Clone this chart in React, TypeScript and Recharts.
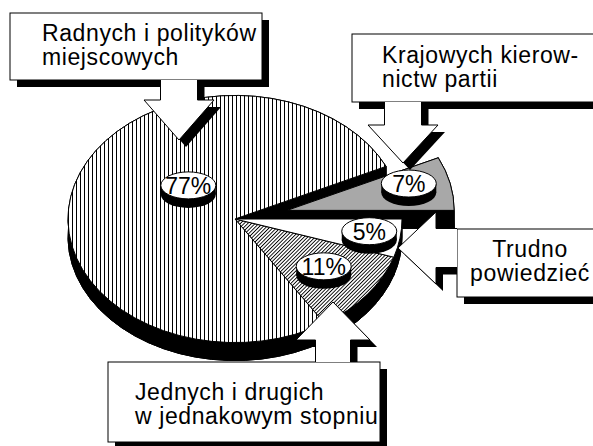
import React from 'react';
import { PieChart, Pie, Cell } from 'recharts';

// ---- data ----
const CATEGORIES = [
  'Jednych i drugich w jednakowym stopniu',
  'Trudno powiedzieć',
  'Krajowych kierownictw partii',
  'Radnych i polityków miejscowych',
];
const VALUES = [11, 5, 7, 77];
const PCT_LABELS = ['11%', '5%', '7%', '77%'];

const data = CATEGORIES.map((name, i) => ({ name, value: VALUES[i], pct: PCT_LABELS[i] }));

// ---- layout / style ----
const W = 593;
const H = 446;
const CX = 235;
const CY = 219;
const R = 167;
const RY = 0.74;
const DEPTH = 18;
const START = -57.6;
const FILLS = ['url(#hatch)', '#ffffff', '#a8a8a8', 'url(#vstripes)'];
const EXPLODE = [0, 0, 0.32, 0];
const LABEL_LAYOUT = [
  { dA: 2, r: 0.655 },
  { dA: 2, r: 0.81 },
  { dA: 4, r: 0.76 },
  { dA: -28, r: 0.39 },
];
const FONT = '"Liberation Sans", Arial, Helvetica, sans-serif';

function ellPt(cx: number, cy: number, r: number, deg: number): [number, number] {
  const a = (deg * Math.PI) / 180;
  return [cx + r * Math.cos(a), cy - r * RY * Math.sin(a)];
}

function sectorD(cx: number, cy: number, r: number, s: number, e: number) {
  const [x1, y1] = ellPt(cx, cy, r, s);
  const [x2, y2] = ellPt(cx, cy, r, e);
  const large = Math.abs(e - s) > 180 ? 1 : 0;
  return `M${cx},${cy} L${x1},${y1} A${r},${r * RY} 0 ${large} 0 ${x2},${y2} Z`;
}

function idxOf(p: any) {
  const name = (p.payload && p.payload.name) || p.name;
  const i = CATEGORIES.indexOf(name);
  return i >= 0 ? i : p.index || 0;
}

function explodeOffset(i: number, mid: number, r: number): [number, number] {
  if (!EXPLODE[i]) return [0, 0];
  return ellPt(0, 0, r * EXPLODE[i], mid);
}

const SideShape = (p: any) => {
  const i = idxOf(p);
  const mid = (p.startAngle + p.endAngle) / 2;
  const [dx, dy] = explodeOffset(i, mid, p.outerRadius);
  const cx = p.cx + dx;
  const cy = p.cy + dy;
  const r = p.outerRadius;
  const s = p.startAngle;
  const e = p.endAngle;
  const [x1, y1] = ellPt(cx, cy, r, s);
  const [x2, y2] = ellPt(cx, cy, r, e);
  const large = Math.abs(e - s) > 180 ? 1 : 0;
  const ds = [
    sectorD(cx, cy + DEPTH, r, s, e),
    `M${x1},${y1} A${r},${r * RY} 0 ${large} 0 ${x2},${y2} L${x2},${y2 + DEPTH} A${r},${r * RY} 0 ${large} 1 ${x1},${y1 + DEPTH} Z`,
    `M${cx},${cy} L${x1},${y1} L${x1},${y1 + DEPTH} L${cx},${cy + DEPTH} Z`,
    `M${cx},${cy} L${x2},${y2} L${x2},${y2 + DEPTH} L${cx},${cy + DEPTH} Z`,
  ];
  return (
    <g>
      {ds.map((d, k) => (
        <path key={k} d={d} fill="#000" stroke="#000" strokeWidth={1} />
      ))}
    </g>
  );
};

const TopShape = (p: any) => {
  const i = idxOf(p);
  const mid = (p.startAngle + p.endAngle) / 2;
  const [dx, dy] = explodeOffset(i, mid, p.outerRadius);
  return (
    <path
      d={sectorD(p.cx + dx, p.cy + dy, p.outerRadius, p.startAngle, p.endAngle)}
      fill={FILLS[i]}
      stroke="#000"
      strokeWidth={1}
      strokeLinejoin="round"
    />
  );
};

const EmptyShape = () => <g />;

const renderLabel = (p: any) => {
  const i = idxOf(p);
  const mid = p.midAngle !== undefined ? p.midAngle : (p.startAngle + p.endAngle) / 2;
  const lay = LABEL_LAYOUT[i];
  const [dx, dy] = explodeOffset(i, mid, p.outerRadius);
  const [x0, y0] = ellPt(p.cx, p.cy, p.outerRadius * lay.r, mid + lay.dA);
  const x = x0 + dx;
  const y = y0 + dy;
  const rx = 27.5;
  const ry = 13.5;
  const d = 9;
  return (
    <g key={`lbl-${i}`}>
      <ellipse cx={x} cy={y + d} rx={rx} ry={ry} fill="#000" />
      <rect x={x - rx} y={y} width={rx * 2} height={d} fill="#000" />
      <ellipse cx={x} cy={y} rx={rx} ry={ry} fill="#fff" stroke="#000" strokeWidth={1} />
      <text
        x={x}
        y={y + 8.5}
        textAnchor="middle"
        fontFamily={FONT}
        fontSize={23}
        fill="#000"
      >
        {PCT_LABELS[i]}
      </text>
    </g>
  );
};

// ---- callouts ----
type Pt = [number, number];
const OFF = 7;

function downArrow(cx: number, yb: number, sw: number, hw: number, hy: number, ty: number): Pt[] {
  return [
    [cx - sw, yb],
    [cx - sw, hy],
    [cx - hw, hy],
    [cx, ty],
    [cx + hw, hy],
    [cx + sw, hy],
    [cx + sw, yb],
  ];
}
function leftArrow(cy: number, xl: number, sw: number, hw: number, hx: number, tx: number): Pt[] {
  return [
    [xl, cy - sw],
    [hx, cy - sw],
    [hx, cy - hw],
    [tx, cy],
    [hx, cy + hw],
    [hx, cy + sw],
    [xl, cy + sw],
  ];
}

const ptsStr = (pts: Pt[], ox = 0, oy = 0) => pts.map(([x, y]) => `${x + ox},${y + oy}`).join(' ');

type Callout = {
  box: [number, number, number, number];
  arrow: Pt[];
  lines: string[];
  tx: number;
  ty: number;
  anchor: 'start' | 'middle';
};

const CALLOUTS: Callout[] = [
  {
    box: [10, 13, 262, 80],
    arrow: downArrow(179, 80, 18.5, 35, 100, 140),
    lines: ['Radnych i polityków', 'miejscowych'],
    tx: 42,
    ty: 41,
    anchor: 'start',
  },
  {
    box: [352, 34, 610, 102],
    arrow: downArrow(403, 102, 18.5, 35, 125, 163),
    lines: ['Krajowych kierow-', 'nictw partii'],
    tx: 382,
    ty: 63,
    anchor: 'start',
  },
  {
    box: [457, 229, 610, 297],
    arrow: leftArrow(248, 457, 19.5, 36, 436, 398),
    lines: ['Trudno', 'powiedzieć'],
    tx: 530,
    ty: 257,
    anchor: 'middle',
  },
  {
    box: [108, 362, 380, 442],
    arrow: downArrow(333, 362, 17.5, 37, 340, 302),
    lines: ['Jednych i drugich', 'w jednakowym stopniu'],
    tx: 135,
    ty: 400,
    anchor: 'start',
  },
];

const Callouts = () => (
  <svg width={W} height={H} style={{ position: 'absolute', left: 0, top: 0 }}>
    {CALLOUTS.map((c, k) => {
      const [x1, y1, x2, y2] = c.box;
      return (
        <g key={k}>
          <rect x={x1 + OFF} y={y1 + OFF} width={x2 - x1} height={y2 - y1} fill="#000" />
          <polygon points={ptsStr(c.arrow, OFF, OFF)} fill="#000" />
          <rect x={x1} y={y1} width={x2 - x1} height={y2 - y1} fill="#fff" stroke="#000" strokeWidth={1} />
          <polygon points={ptsStr(c.arrow)} fill="#fff" stroke="none" />
          <polyline points={ptsStr(c.arrow)} fill="none" stroke="#000" strokeWidth={1} />
          {c.lines.map((ln, j) => (
            <text
              key={j}
              x={c.tx}
              y={c.ty + j * 24}
              textAnchor={c.anchor}
              fontFamily={FONT}
              fontSize={23}
              style={{ letterSpacing: '0.6px' }}
              fill="#000"
            >
              {ln}
            </text>
          ))}
        </g>
      );
    })}
  </svg>
);

const Patterns = () => (
  <svg width={0} height={0} style={{ position: 'absolute', left: 0, top: 0 }}>
    <defs>
      <pattern id="vstripes" width={4} height={4} patternUnits="userSpaceOnUse">
        <rect width={4} height={4} fill="#fff" />
        <rect x={0} width={1} height={4} fill="#000" />
      </pattern>
      <pattern id="hatch" width={2.6} height={2.6} patternUnits="userSpaceOnUse" patternTransform="rotate(45)">
        <rect width={2.6} height={2.6} fill="#fff" />
        <rect x={0} width={0.9} height={2.6} fill="#000" />
      </pattern>
    </defs>
  </svg>
);

const pieCommon = {
  data,
  dataKey: 'value',
  nameKey: 'name',
  cx: CX,
  cy: CY,
  innerRadius: 0,
  outerRadius: R,
  startAngle: START,
  endAngle: START + 360,
  isAnimationActive: false,
  stroke: 'none',
};

export default function App() {
  return (
    <div style={{ position: 'absolute', left: 0, top: 0, width: W, height: H, background: '#fff', overflow: 'hidden' }}>
      <Patterns />
      <div style={{ position: 'absolute', left: 0, top: 0 }}>
        <PieChart width={W} height={H} margin={{ top: 0, right: 0, bottom: 0, left: 0 }}>
          <Pie {...(pieCommon as any)} shape={SideShape} inactiveShape={SideShape} labelLine={false} label={false}>
            {data.map((d, i) => (
              <Cell key={i} fill="#000" />
            ))}
          </Pie>
          <Pie {...(pieCommon as any)} shape={TopShape} inactiveShape={TopShape} labelLine={false} label={false}>
            {data.map((d, i) => (
              <Cell key={i} fill={FILLS[i]} />
            ))}
          </Pie>
        </PieChart>
      </div>
      <Callouts />
      <div style={{ position: 'absolute', left: 0, top: 0 }}>
        <PieChart width={W} height={H} margin={{ top: 0, right: 0, bottom: 0, left: 0 }}>
          <Pie {...(pieCommon as any)} shape={EmptyShape} inactiveShape={EmptyShape} labelLine={false} label={renderLabel}>
            {data.map((d, i) => (
              <Cell key={i} fill="none" />
            ))}
          </Pie>
        </PieChart>
      </div>
    </div>
  );
}
